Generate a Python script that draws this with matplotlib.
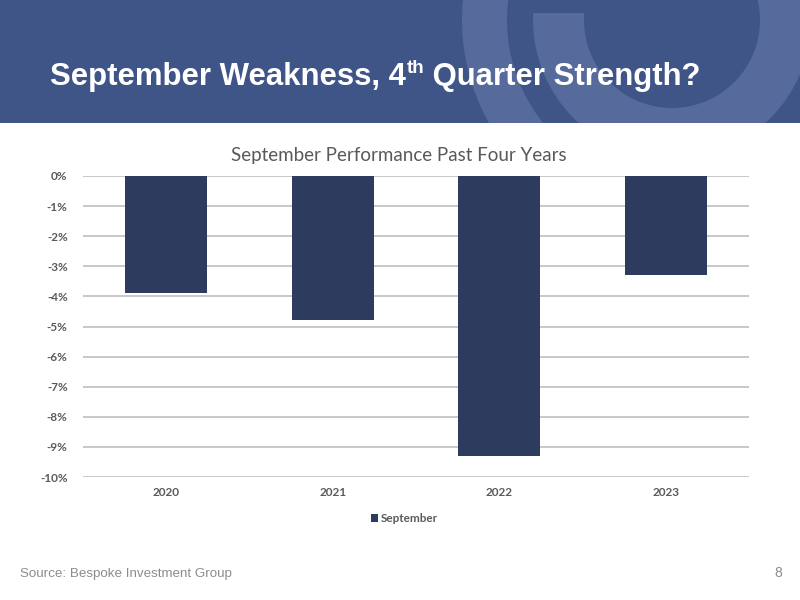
import matplotlib
matplotlib.use("Agg")
import matplotlib.pyplot as plt
from matplotlib.patches import Rectangle, Wedge
from matplotlib.ticker import FuncFormatter

years = ["2020", "2021", "2022", "2023"]
september = [-3.9, -4.8, -9.3, -3.3]
y_ticks = [0, -1, -2, -3, -4, -5, -6, -7, -8, -9, -10]

W, H = 800, 600
fig = plt.figure(figsize=(8, 6), dpi=100)
fig.patch.set_facecolor("white")

# background / header layer in pixel coordinates
bg = fig.add_axes([0, 0, 1, 1])
bg.set_xlim(0, W)
bg.set_ylim(H, 0)
bg.axis("off")
header_col = "#3F5588"
light_col = "#566A9B"
bg.add_patch(Rectangle((0, 0), W, 123, facecolor=header_col, edgecolor="none"))
clip = Rectangle((0, 0), W, 123, transform=bg.transData)
cx, cy = 672, 20
outer = Wedge((cx, cy), 210, 0, 360, width=45, facecolor=light_col, edgecolor="none")
inner = Wedge((cx, cy), 139, 0, 360, width=51, facecolor=light_col, edgecolor="none")
cut = Rectangle((522, 0), 80, 13, facecolor=header_col, edgecolor="none")
for p in (outer, inner, cut):
    bg.add_patch(p)
    p.set_clip_path(clip)

# slide title with superscript
fig.canvas.draw()
r = fig.canvas.get_renderer()
tfont = dict(family="Liberation Sans", weight="bold", color="white")
t1 = fig.text(50 / W, 1 - 85 / H, "September Weakness, 4", fontsize=22.4, va="baseline", ha="left", **tfont)
bb = t1.get_window_extent(r)
t2 = fig.text(bb.x1 / W + 0.001, 1 - 73 / H, "th", fontsize=13.5, va="baseline", ha="left", **tfont)
bb2 = t2.get_window_extent(r)
t3 = fig.text(bb2.x1 / W, 1 - 85 / H, " Quarter Strength?", fontsize=22.4, va="baseline", ha="left", **tfont)

# chart
ax = fig.add_axes([83 / W, 1 - 477 / H, (749 - 83) / W, (477 - 176) / H])
ax.set_facecolor("none")
x = range(len(years))
ax.bar(x, september, width=0.49, color="#2D3C5E", zorder=3, label="September")
ax.set_ylim(-10, 0)
ax.set_xlim(-0.5, len(years) - 0.5)
ax.set_yticks(y_ticks)
ax.yaxis.set_major_formatter(FuncFormatter(lambda v, p: f"{v:.0f}%"))
ax.set_xticks(list(x))
ax.set_xticklabels(years)
ax.grid(axis="y", color="#C8C8C8", linewidth=1.4, zorder=0)
ax.set_axisbelow(True)
for s in ax.spines.values():
    s.set_visible(False)
ax.tick_params(axis="both", length=0, colors="#595959", labelsize=8.5)
ax.tick_params(axis="y", pad=11)
ax.tick_params(axis="x", pad=7.5)
for lab in ax.get_xticklabels() + ax.get_yticklabels():
    lab.set_family("Lato")
    lab.set_fontweight("bold")
    lab.set_color("#5A5A5A")

fig.text(399 / W, 1 - 155 / H, "September Performance Past Four Years", ha="center", va="center",
         fontsize=13.5, color="#595959", family="Lato")

leg = ax.legend(loc="upper center", bbox_to_anchor=(0.483, -0.085), frameon=False,
                handlelength=0.6, handleheight=0.6, handletextpad=0.2,
                prop=dict(family="Lato", weight="bold", size=8.5))
for t in leg.get_texts():
    t.set_color("#5A5A5A")

fig.text(20 / W, 1 - 574 / H, "Source: Bespoke Investment Group", ha="left", va="center",
         fontsize=9.6, color="#8C8C8C", family="Liberation Sans")
fig.text(782 / W, 1 - 573 / H, "8", ha="right", va="center", fontsize=10, color="#8C8C8C",
         family="Liberation Sans")

fig.savefig("out.png", dpi=100, facecolor="white")
